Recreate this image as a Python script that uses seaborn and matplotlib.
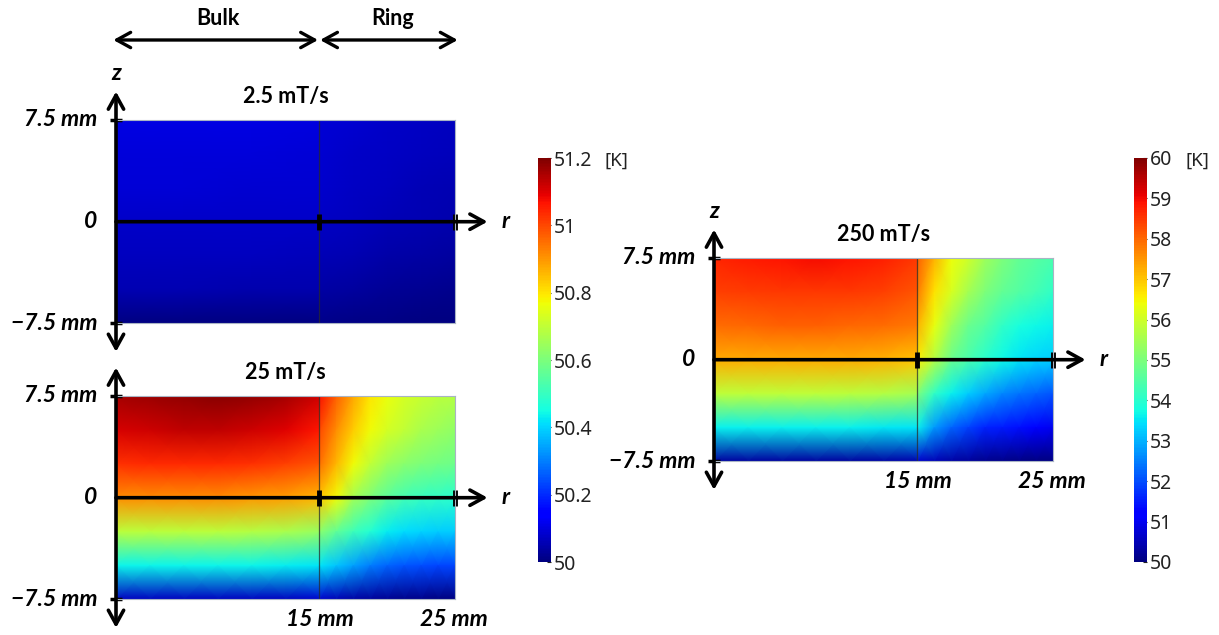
import numpy as np
import matplotlib
matplotlib.use("Agg")
import matplotlib.pyplot as plt
import seaborn as sns

# Temperature fields [K] in the (r, z) half-plane of the sample.
# Rows run from z = +7.5 mm (top) to z = -7.5 mm (bottom) in 2.5 mm steps.
Z_ROWS_MM = [7.5, 5.0, 2.5, 0.0, -2.5, -5.0, -7.5]

# 2.5 mT/s  -- bulk columns r = 0, 5, 10, 15 mm ; ring columns r = 15, 17.5, 20, 22.5, 25 mm
BULK_2P5 = [
    [50.106, 50.106, 50.104, 50.100],
    [50.098, 50.098, 50.096, 50.093],
    [50.090, 50.090, 50.088, 50.085],
    [50.079, 50.079, 50.077, 50.075],
    [50.069, 50.069, 50.067, 50.064],
    [50.053, 50.053, 50.051, 50.049],
    [50.004, 50.004, 50.004, 50.004],
]
RING_2P5 = [
    [50.092, 50.085, 50.078, 50.072, 50.066],
    [50.086, 50.079, 50.072, 50.066, 50.061],
    [50.080, 50.073, 50.066, 50.060, 50.055],
    [50.073, 50.066, 50.059, 50.053, 50.048],
    [50.060, 50.053, 50.046, 50.040, 50.035],
    [50.042, 50.035, 50.028, 50.022, 50.018],
    [50.013, 50.009, 50.005, 50.002, 50.000],
]

# 25 mT/s  -- bulk columns r = 0 ... 15 mm (2.5 mm) ; ring columns r = 15 ... 25 mm (1.25 mm)
BULK_25 = [
    [51.16, 51.17, 51.18, 51.19, 51.18, 51.16, 51.12],
    [51.11, 51.12, 51.13, 51.13, 51.12, 51.10, 51.06],
    [51.03, 51.04, 51.04, 51.04, 51.03, 51.01, 50.98],
    [50.91, 50.91, 50.91, 50.91, 50.90, 50.89, 50.86],
    [50.69, 50.69, 50.69, 50.69, 50.68, 50.67, 50.64],
    [50.44, 50.44, 50.44, 50.44, 50.44, 50.43, 50.42],
    [50.07, 50.07, 50.07, 50.07, 50.07, 50.07, 50.08],
]
RING_25 = [
    [51.07, 50.97, 50.88, 50.80, 50.76, 50.73, 50.71, 50.69, 50.68],
    [51.00, 50.91, 50.83, 50.77, 50.73, 50.70, 50.67, 50.65, 50.63],
    [50.95, 50.86, 50.77, 50.70, 50.65, 50.62, 50.60, 50.59, 50.58],
    [50.84, 50.77, 50.66, 50.60, 50.55, 50.52, 50.50, 50.49, 50.48],
    [50.62, 50.56, 50.51, 50.47, 50.43, 50.41, 50.40, 50.39, 50.39],
    [50.42, 50.38, 50.34, 50.30, 50.27, 50.25, 50.24, 50.23, 50.23],
    [50.08, 50.06, 50.04, 50.03, 50.02, 50.01, 50.01, 50.00, 50.00],
]

# 250 mT/s -- same column layout as 25 mT/s
BULK_250 = [
    [58.70, 58.80, 58.90, 58.95, 58.90, 58.75, 58.50],
    [58.40, 58.45, 58.50, 58.50, 58.50, 58.40, 58.20],
    [57.95, 58.00, 58.05, 58.05, 58.00, 57.95, 57.80],
    [57.30, 57.30, 57.30, 57.30, 57.30, 57.20, 57.00],
    [55.80, 55.80, 55.80, 55.80, 55.75, 55.70, 55.50],
    [53.60, 53.60, 53.60, 53.60, 53.60, 53.55, 53.50],
    [50.30, 50.30, 50.30, 50.30, 50.30, 50.35, 50.40],
]
RING_250 = [
    [58.10, 57.20, 56.40, 56.00, 55.40, 55.00, 54.70, 54.55, 54.40],
    [57.80, 56.70, 56.10, 55.50, 55.00, 54.70, 54.50, 54.30, 54.10],
    [57.20, 56.30, 55.40, 54.80, 54.50, 54.10, 53.80, 53.70, 53.60],
    [56.60, 55.70, 54.80, 54.40, 54.00, 53.70, 53.50, 53.35, 53.25],
    [55.00, 54.10, 53.60, 53.25, 52.90, 52.60, 52.40, 52.25, 52.10],
    [53.60, 52.75, 52.25, 51.90, 51.60, 51.50, 51.40, 51.20, 51.00],
    [50.70, 50.50, 50.35, 50.25, 50.15, 50.10, 50.05, 50.02, 50.00],
]

RATES = ["2.5 mT/s", "25 mT/s", "250 mT/s"]
R_BULK_MM = 15
R_OUTER_MM = 25
Z_HALF_MM = 7.5

SCALE_LOW = [50.0, 51.2]
SCALE_HIGH = [50.0, 60.0]
TICKS_LOW = [50.0, 50.2, 50.4, 50.6, 50.8, 51.0, 51.2]
TICK_LABELS_LOW = ["50", "50.2", "50.4", "50.6", "50.8", "51", "51.2"]
TICKS_HIGH = [50, 51, 52, 53, 54, 55, 56, 57, 58, 59, 60]
TICK_LABELS_HIGH = [str(t) for t in TICKS_HIGH]

sns.set_theme(style="white")
plt.rcParams["font.family"] = ["Lato", "DejaVu Sans"]

W, H = 1219, 635
PX_PER_MM = 13.56
fig = plt.figure(figsize=(W / 100, H / 100), dpi=100)
fig.patch.set_facecolor("white")


def rect(x0, y0, w_mm, h_mm):
    """Figure-fraction box from a top-left pixel corner and a size in mm."""
    w = w_mm * PX_PER_MM
    h = h_mm * PX_PER_MM
    return [x0 / W, 1 - (y0 + h) / H, w / W, h / H]


LABEL_KW = dict(fontsize=16.5, fontweight="bold", fontstyle="italic", color="black")
TITLE_KW = dict(fontsize=15.5, fontweight="bold", color="black")


def draw_panel(x0, y0, bulk, ring, scale, title, cax=None,
               z_label=True, r_labels=True):
    height = 2 * Z_HALF_MM
    ax_bulk = fig.add_axes(rect(x0, y0, R_BULK_MM, height))
    ax_ring = fig.add_axes(rect(x0 + R_BULK_MM * PX_PER_MM, y0,
                                R_OUTER_MM - R_BULK_MM, height))
    for ax, field, with_cbar in ((ax_bulk, bulk, cax is not None),
                                 (ax_ring, ring, False)):
        data = np.asarray(field, dtype=float)
        sns.heatmap(data, ax=ax, cmap="jet", vmin=scale[0], vmax=scale[1],
                    shading="gouraud", cbar=with_cbar,
                    cbar_ax=cax if with_cbar else None,
                    xticklabels=False, yticklabels=False)
        n_rows, n_cols = data.shape
        ax.set_xlim(0, n_cols - 1)
        ax.set_ylim(n_rows - 1, 0)
        ax.set_axis_off()

    # overlay in millimetres for the coordinate axes and labels
    ov = fig.add_axes(rect(x0, y0, R_OUTER_MM, height), zorder=5)
    ov.set_facecolor("none")
    ov.set_xlim(0, R_OUTER_MM)
    ov.set_ylim(-Z_HALF_MM, Z_HALF_MM)
    ov.set_xticks([])
    ov.set_yticks([])
    for sp in ov.spines.values():
        sp.set_visible(True)
        sp.set_color("#a9b4c4")
        sp.set_linewidth(0.8)
    ov.axvline(R_BULK_MM, color="#2a2a2a", lw=0.9, alpha=0.75)

    arrow = dict(lw=2.6, color="black", shrinkA=0, shrinkB=0,
                 mutation_scale=10)
    ov.annotate("", xy=(27.4, 0), xytext=(0, 0), annotation_clip=False,
                arrowprops=dict(arrowstyle="->,head_length=1.0,head_width=0.55", **arrow))
    ov.annotate("", xy=(0, 9.6), xytext=(0, -9.6), annotation_clip=False,
                arrowprops=dict(arrowstyle="<->,head_length=1.0,head_width=0.55", **arrow))
    ov.plot([R_BULK_MM, R_OUTER_MM], [0, 0], ls="none", marker="|", ms=11,
            mew=3.5, color="black", clip_on=False)
    ov.plot([0, 0], [Z_HALF_MM, -Z_HALF_MM], ls="none", marker="_", ms=9,
            mew=2.5, color="black", clip_on=False)

    ov.text(-1.4, Z_HALF_MM, "7.5 mm", ha="right", va="center", **LABEL_KW)
    ov.text(-1.4, 0, "0", ha="right", va="center", **LABEL_KW)
    ov.text(-1.4, -Z_HALF_MM, "\u22127.5 mm", ha="right", va="center", **LABEL_KW)
    ov.text(28.7, 0, "r", ha="center", va="center", **LABEL_KW)
    if z_label:
        ov.text(0, 10.9, "z", ha="center", va="center", **LABEL_KW)
    if r_labels:
        ov.text(R_BULK_MM, -8.95, "15 mm", ha="center", va="center", **LABEL_KW)
        ov.text(R_OUTER_MM - 0.1, -8.95, "25 mm", ha="center", va="center", **LABEL_KW)
    ov.text(R_OUTER_MM / 2, 9.2, title, ha="center", va="center", **TITLE_KW)
    return ov


def style_cbar(cax, ticks, labels, x_unit):
    cax.set_yticks(ticks)
    cax.set_yticklabels(labels)
    cax.tick_params(axis="y", labelsize=14, length=3, width=0.8,
                    direction="in", pad=2, colors="#222222", left=False,
                    right=True)
    for lab in cax.get_yticklabels():
        lab.set_fontfamily(["Noto Sans", "DejaVu Sans"])
    for sp in cax.spines.values():
        sp.set_visible(False)
    fig.text(x_unit / W, 1 - 161 / H, "[K]", ha="center", va="center",
             fontsize=13.5, color="#222222", family=["Noto Sans", "DejaVu Sans"])


cax_low = fig.add_axes([538 / W, 1 - 562 / H, 13 / W, 404 / H])
cax_high = fig.add_axes([1134 / W, 1 - 562 / H, 13 / W, 404 / H])

top = draw_panel(116, 120, BULK_2P5, RING_2P5, SCALE_LOW, RATES[0],
                 r_labels=False)
draw_panel(116, 396, BULK_25, RING_25, SCALE_LOW, RATES[1], cax=cax_low,
           z_label=False)
draw_panel(714, 258, BULK_250, RING_250, SCALE_HIGH, RATES[2], cax=cax_high)

style_cbar(cax_low, TICKS_LOW, TICK_LABELS_LOW, 616)
style_cbar(cax_high, TICKS_HIGH, TICK_LABELS_HIGH, 1197)

# Bulk / Ring extent markers above the first panel
span = dict(arrowstyle="<->,head_length=1.0,head_width=0.55", lw=2.4,
            color="black", shrinkA=0, shrinkB=0, mutation_scale=10)
top.annotate("", xy=(14.9, 13.4), xytext=(-0.2, 13.4),
             annotation_clip=False, arrowprops=span)
top.annotate("", xy=(25.2, 13.4), xytext=(15.05, 13.4),
             annotation_clip=False, arrowprops=span)
top.text(7.5, 15.0, "Bulk", ha="center", va="center", **TITLE_KW)
top.text(20.4, 15.0, "Ring", ha="center", va="center", **TITLE_KW)

fig.savefig("out.png", dpi=100, facecolor="white")
